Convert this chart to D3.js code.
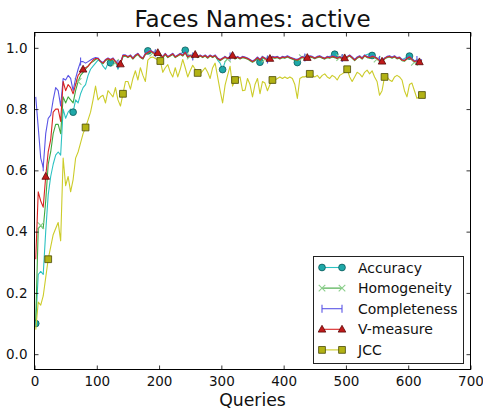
<!DOCTYPE html>
<html>
<head>
<meta charset="utf-8">
<script src="https://cdn.jsdelivr.net/npm/d3@7"></script>
<style>
  html, body { margin: 0; padding: 0; background: #fff; }
  svg { display: block; font-family: "DejaVu Sans", sans-serif; }
</style>
</head>
<body>
<svg id="chart" width="483" height="416"></svg>
<script>
// Query counts at which each measure was recorded (every 4 queries).
const queries = d3.range(2, 623, 4);

const accuracy = [
  0.10, 0.26, 0.27, 0.26, 0.40, 0.52, 0.58, 0.62, 0.65, 0.66,
  0.65, 0.80, 0.77, 0.79, 0.80, 0.79, 0.83, 0.82, 0.85, 0.87,
  0.88, 0.91, 0.93, 0.94, 0.95, 0.96, 0.955, 0.94, 0.93, 0.95,
  0.951, 0.96, 0.955, 0.93, 0.95, 0.97, 0.975, 0.97, 0.975, 0.965,
  0.975, 0.98, 0.97, 0.965, 0.98, 0.99, 0.99, 0.985, 0.98, 0.984,
  0.975, 0.97, 0.98, 0.97, 0.975, 0.98, 0.97, 0.975, 0.98, 0.985,
  0.992, 0.975, 0.975, 0.97, 0.978, 0.97, 0.975, 0.97, 0.975, 0.968,
  0.975, 0.97, 0.975, 0.96, 0.95, 0.929, 0.955, 0.965, 0.97, 0.975,
  0.965, 0.97, 0.965, 0.97, 0.968, 0.965, 0.96, 0.955, 0.96, 0.96,
  0.953, 0.965, 0.965, 0.96, 0.965, 0.97, 0.968, 0.97, 0.965, 0.97,
  0.968, 0.972, 0.968, 0.965, 0.958, 0.952, 0.96, 0.97, 0.966, 0.968,
  0.972, 0.97, 0.966, 0.97, 0.972, 0.968, 0.965, 0.97, 0.972, 0.976,
  0.979, 0.97, 0.97, 0.965, 0.967, 0.97, 0.975, 0.968, 0.962, 0.968,
  0.972, 0.968, 0.975, 0.978, 0.981, 0.975, 0.97, 0.965, 0.96, 0.958,
  0.965, 0.97, 0.972, 0.968, 0.972, 0.966, 0.968, 0.962, 0.965, 0.97,
  0.973, 0.965, 0.958, 0.96, 0.956, 0.96
];

const homogeneity = [
  0.11, 0.41, 0.42, 0.41, 0.50, 0.62, 0.66, 0.72, 0.75, 0.75,
  0.72, 0.84, 0.82, 0.84, 0.83, 0.82, 0.86, 0.89, 0.91, 0.92,
  0.93, 0.94, 0.95, 0.955, 0.962, 0.965, 0.955, 0.948, 0.958, 0.963,
  0.958, 0.963, 0.952, 0.943, 0.948, 0.972, 0.973, 0.968, 0.973, 0.963,
  0.972, 0.978, 0.968, 0.963, 0.978, 0.983, 0.988, 0.983, 0.978, 0.982,
  0.973, 0.968, 0.978, 0.968, 0.973, 0.978, 0.968, 0.973, 0.978, 0.973,
  0.983, 0.968, 0.973, 0.968, 0.976, 0.968, 0.973, 0.968, 0.973, 0.966,
  0.973, 0.968, 0.973, 0.963, 0.958, 0.963, 0.968, 0.963, 0.968, 0.973,
  0.963, 0.968, 0.963, 0.968, 0.966, 0.963, 0.958, 0.953, 0.958, 0.966,
  0.958, 0.968, 0.963, 0.958, 0.963, 0.968, 0.966, 0.968, 0.963, 0.968,
  0.966, 0.97, 0.966, 0.963, 0.96, 0.958, 0.963, 0.968, 0.964, 0.966,
  0.97, 0.968, 0.964, 0.968, 0.97, 0.966, 0.963, 0.968, 0.966, 0.97,
  0.968, 0.964, 0.968, 0.963, 0.965, 0.968, 0.973, 0.966, 0.958, 0.966,
  0.97, 0.963, 0.973, 0.968, 0.966, 0.97, 0.968, 0.963, 0.956, 0.954,
  0.963, 0.968, 0.97, 0.966, 0.97, 0.964, 0.966, 0.958, 0.956, 0.963,
  0.968, 0.96, 0.953, 0.956, 0.952, 0.958
];

const completeness = [
  0.84, 0.74, 0.64, 0.61, 0.72, 0.77, 0.78, 0.83, 0.87, 0.86,
  0.81, 0.90, 0.895, 0.91, 0.90, 0.86, 0.90, 0.93, 0.955, 0.955,
  0.95, 0.955, 0.96, 0.965, 0.968, 0.967, 0.957, 0.952, 0.962, 0.967,
  0.962, 0.967, 0.957, 0.947, 0.952, 0.977, 0.977, 0.972, 0.977, 0.967,
  0.977, 0.982, 0.972, 0.967, 0.982, 0.987, 0.992, 0.987, 0.982, 0.986,
  0.977, 0.972, 0.982, 0.972, 0.977, 0.982, 0.972, 0.977, 0.982, 0.977,
  0.987, 0.972, 0.977, 0.972, 0.98, 0.972, 0.977, 0.972, 0.977, 0.97,
  0.977, 0.972, 0.977, 0.967, 0.962, 0.967, 0.972, 0.967, 0.972, 0.977,
  0.967, 0.972, 0.967, 0.972, 0.97, 0.967, 0.962, 0.957, 0.962, 0.97,
  0.962, 0.972, 0.967, 0.962, 0.967, 0.972, 0.97, 0.972, 0.967, 0.972,
  0.97, 0.974, 0.97, 0.967, 0.964, 0.962, 0.967, 0.972, 0.968, 0.97,
  0.974, 0.972, 0.968, 0.972, 0.974, 0.97, 0.967, 0.972, 0.97, 0.974,
  0.972, 0.968, 0.972, 0.967, 0.969, 0.972, 0.977, 0.97, 0.962, 0.97,
  0.974, 0.967, 0.977, 0.972, 0.97, 0.974, 0.972, 0.967, 0.96, 0.958,
  0.967, 0.972, 0.974, 0.97, 0.974, 0.968, 0.97, 0.962, 0.96, 0.967,
  0.972, 0.964, 0.957, 0.96, 0.956, 0.962
];

const vMeasure = [
  0.31, 0.53, 0.50, 0.48, 0.58, 0.66, 0.70, 0.79, 0.80, 0.80,
  0.76, 0.89, 0.86, 0.88, 0.87, 0.85, 0.88, 0.91, 0.92, 0.93,
  0.935, 0.94, 0.95, 0.96, 0.965, 0.965, 0.955, 0.95, 0.96, 0.965,
  0.96, 0.965, 0.955, 0.945, 0.947, 0.975, 0.975, 0.97, 0.975, 0.965,
  0.975, 0.98, 0.97, 0.965, 0.98, 0.985, 0.99, 0.985, 0.98, 0.984,
  0.975, 0.97, 0.98, 0.97, 0.975, 0.98, 0.97, 0.975, 0.98, 0.975,
  0.985, 0.97, 0.975, 0.97, 0.978, 0.97, 0.975, 0.97, 0.975, 0.968,
  0.975, 0.97, 0.975, 0.965, 0.96, 0.965, 0.97, 0.965, 0.97, 0.975,
  0.965, 0.97, 0.965, 0.97, 0.968, 0.965, 0.96, 0.955, 0.96, 0.968,
  0.96, 0.97, 0.965, 0.96, 0.965, 0.97, 0.968, 0.97, 0.965, 0.97,
  0.968, 0.972, 0.968, 0.965, 0.962, 0.96, 0.965, 0.97, 0.966, 0.968,
  0.972, 0.97, 0.966, 0.97, 0.972, 0.968, 0.965, 0.97, 0.968, 0.972,
  0.97, 0.966, 0.97, 0.965, 0.967, 0.97, 0.975, 0.968, 0.96, 0.968,
  0.972, 0.965, 0.975, 0.97, 0.968, 0.972, 0.97, 0.965, 0.958, 0.956,
  0.965, 0.97, 0.972, 0.968, 0.972, 0.966, 0.968, 0.96, 0.958, 0.965,
  0.97, 0.962, 0.955, 0.958, 0.954, 0.96
];

const jcc = [
  0.08, 0.17, 0.16, 0.19, 0.25, 0.31, 0.35, 0.39, 0.41, 0.43,
  0.37, 0.64, 0.55, 0.58, 0.53, 0.57, 0.64, 0.66, 0.69, 0.72,
  0.74, 0.765, 0.79, 0.83, 0.875, 0.83, 0.84, 0.845, 0.82, 0.86,
  0.85, 0.84, 0.87, 0.83, 0.81, 0.85, 0.89, 0.89, 0.865, 0.90,
  0.925, 0.895, 0.935, 0.91, 0.89, 0.96, 0.968, 0.97, 0.965, 0.96,
  0.957, 0.92, 0.935, 0.945, 0.92, 0.905, 0.935, 0.905, 0.93, 0.962,
  0.935, 0.905, 0.925, 0.943, 0.93, 0.918, 0.915, 0.925, 0.935, 0.92,
  0.90, 0.935, 0.95, 0.905, 0.86, 0.82, 0.878, 0.91, 0.94, 0.875,
  0.895, 0.90, 0.905, 0.86, 0.862, 0.90, 0.88, 0.84, 0.88, 0.90,
  0.85, 0.89, 0.885, 0.86, 0.88, 0.895, 0.895, 0.90, 0.905, 0.90,
  0.905, 0.90, 0.905, 0.90, 0.88, 0.835, 0.90, 0.905, 0.905, 0.91,
  0.915, 0.91, 0.905, 0.91, 0.90, 0.91, 0.915, 0.905, 0.90, 0.91,
  0.905, 0.895, 0.91, 0.915, 0.92, 0.93, 0.905, 0.89, 0.905, 0.92,
  0.915, 0.905, 0.92, 0.927, 0.915, 0.925, 0.905, 0.89, 0.845, 0.86,
  0.905, 0.905, 0.895, 0.89, 0.905, 0.91, 0.905, 0.895, 0.86, 0.84,
  0.88, 0.885, 0.86, 0.835, 0.84, 0.846
];

const xTicks = [0, 100, 200, 300, 400, 500, 600, 700];
const yTicks = [0.0, 0.2, 0.4, 0.6, 0.8, 1.0];

// Series, in drawing order; markers are placed every 15 samples with a per-series offset.
const series = [
  { name: "Accuracy",     values: accuracy,     line: "#2cc2c2", marker: "circle",   fill: "#1fa8a8", edge: "#0d5a5a", offset: 0 },
  { name: "Homogeneity",  values: homogeneity,  line: "#3fa83f", marker: "x",        fill: "none",    edge: "#8ccf8c", offset: 2 },
  { name: "Completeness", values: completeness, line: "#5a55e6", marker: "vline",    fill: "none",    edge: "#5a55e6", offset: 3 },
  { name: "V-measure",    values: vMeasure,     line: "#d82424", marker: "triangle", fill: "#c01a1a", edge: "#5a0a0a", offset: 4 },
  { name: "JCC",          values: jcc,          line: "#cccc2a", marker: "square",   fill: "#b2b214", edge: "#4a4a08", offset: 5 }
];
const markEvery = 15;

const svg = d3.select("#chart");
const plot = { left: 34.5, right: 470.5, top: 32.5, bottom: 369.5 };

const x = d3.scaleLinear().domain([0, 700]).range([plot.left, plot.right]);
const y = d3.scaleLinear().domain([-0.05, 1.05]).range([plot.bottom, plot.top]);

// Marker shapes centred on the origin.
function markerPath(kind) {
  switch (kind) {
    case "circle":   return d3.symbol(d3.symbolCircle, 36)();
    case "square":   return "M-3.4,-3.4H3.4V3.4H-3.4Z";
    case "triangle": return "M0,-4L3.8,2.8H-3.8Z";
    case "x":        return "M-3.3,-3.3L3.3,3.3M-3.3,3.3L3.3,-3.3";
    case "vline":    return "M0,-4V4";
  }
}
function drawMarker(g, kind, s, cx, cy) {
  const open = kind === "x" || kind === "vline";
  g.append("path")
    .attr("d", markerPath(kind))
    .attr("transform", `translate(${cx},${cy})`)
    .attr("fill", open ? "none" : s.fill)
    .attr("stroke", s.edge)
    .attr("stroke-width", open ? 1.1 : 0.8);
}

svg.append("defs").append("clipPath").attr("id", "plot-clip")
  .append("rect")
  .attr("x", plot.left).attr("y", plot.top)
  .attr("width", plot.right - plot.left).attr("height", plot.bottom - plot.top);

const layer = svg.append("g").attr("clip-path", "url(#plot-clip)");
const line = d3.line().x((d, i) => x(queries[i])).y(d => y(d));

series.forEach(s => {
  const g = layer.append("g");
  g.append("path")
    .datum(s.values)
    .attr("d", line)
    .attr("fill", "none")
    .attr("stroke", s.line)
    .attr("stroke-width", 1.1)
    .attr("stroke-linejoin", "round");
  s.values.forEach((v, i) => {
    if (i >= s.offset && (i - s.offset) % markEvery === 0) {
      drawMarker(g, s.marker, s, x(queries[i]), y(v));
    }
  });
});

// Frame with inward ticks on all four sides.
svg.append("rect")
  .attr("x", plot.left).attr("y", plot.top)
  .attr("width", plot.right - plot.left).attr("height", plot.bottom - plot.top)
  .attr("fill", "none").attr("stroke", "#000").attr("stroke-width", 1);

const tickLen = 4;
const axes = svg.append("g").attr("font-size", 13.5).attr("fill", "#000");

const xBottom = d3.axisBottom(x).tickValues(xTicks).tickSize(-tickLen).tickPadding(7).tickFormat(d3.format("d"));
const xTop = d3.axisTop(x).tickValues(xTicks).tickSize(-tickLen).tickFormat("");
const yLeft = d3.axisLeft(y).tickValues(yTicks).tickSize(-tickLen).tickPadding(7).tickFormat(d3.format(".1f"));
const yRight = d3.axisRight(y).tickValues(yTicks).tickSize(-tickLen).tickFormat("");

function styleAxis(g) {
  g.select(".domain").remove();
  g.selectAll(".tick line").attr("stroke", "#000").attr("stroke-width", 0.8);
  g.selectAll(".tick text")
    .attr("font-family", "DejaVu Sans, sans-serif")
    .attr("font-size", 13.5)
    .attr("fill", "#111");
}
axes.append("g").attr("transform", `translate(0,${plot.bottom})`).call(xBottom).call(styleAxis);
axes.append("g").attr("transform", `translate(0,${plot.top})`).call(xTop).call(styleAxis);
axes.append("g").attr("transform", `translate(${plot.left},0)`).call(yLeft).call(styleAxis);
axes.append("g").attr("transform", `translate(${plot.right},0)`).call(yRight).call(styleAxis);

// Title and axis label.
svg.append("text")
  .attr("x", (plot.left + plot.right) / 2).attr("y", 27)
  .attr("text-anchor", "middle")
  .attr("font-size", 23).attr("fill", "#111")
  .text("Faces Names: active");

svg.append("text")
  .attr("x", (plot.left + plot.right) / 2).attr("y", 406)
  .attr("text-anchor", "middle")
  .attr("font-size", 17.3).attr("fill", "#111")
  .text("Queries");

// Legend, lower right inside the axes.
const legend = svg.append("g");
legend.append("rect")
  .attr("x", 313.5).attr("y", 256.5).attr("width", 150).attr("height", 107)
  .attr("fill", "#fff").attr("stroke", "#222").attr("stroke-width", 1);

series.forEach((s, i) => {
  const ry = 267.5 + i * 20.6;
  const row = legend.append("g");
  row.append("line")
    .attr("x1", 322).attr("x2", 342).attr("y1", ry).attr("y2", ry)
    .attr("stroke", s.line).attr("stroke-width", 1.1);
  drawMarker(row, s.marker, s, 322, ry);
  drawMarker(row, s.marker, s, 342, ry);
  row.append("text")
    .attr("x", 358).attr("y", ry).attr("dy", "0.36em")
    .attr("font-size", 14).attr("fill", "#111")
    .text(s.name);
});
</script>
</body>
</html>
